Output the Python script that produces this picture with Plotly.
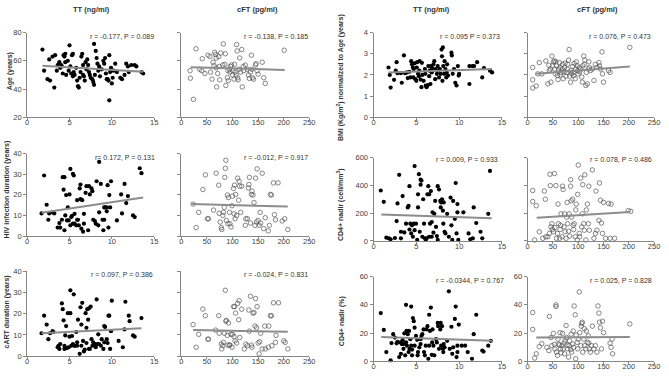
import plotly.graph_objects as go

W, H = 669, 378

# ---------------- data ----------------
# Panel A: Age vs TT / cFT
age_tt_x = [1.8,2.0,2.4,2.7,2.6,3.0,3.2,3.3,3.5,3.6,3.8,3.9,4.0,4.1,4.2,4.3,4.4,4.5,4.5,4.6,4.8,4.9,5.0,5.1,5.2,5.3,5.4,5.4,5.5,5.6,5.8,5.9,6.0,6.1,6.2,6.3,6.4,6.5,6.6,6.6,6.7,6.8,6.9,7.0,7.1,7.2,7.3,7.4,7.5,7.7,7.8,7.9,7.9,8.0,8.1,8.2,8.3,8.4,8.5,8.6,8.8,9.0,9.1,9.2,9.3,9.4,9.5,9.6,9.7,9.7,9.8,9.9,10.0,10.1,10.2,10.4,10.6,11.0,11.2,11.5,11.7,11.9,12.0,12.3,12.7,12.9,13.5,13.7]
age_tt_y = [68,53,47,46,61,63,41,64,53,57,59,55,57,56,51,64,63,65,59,50,60,53,71,56,51,64,65,49,52,50,55,46,42,41,48,52,63,65,57,50,49,46,59,54,61,57,52,50,48,47,45,43,72,50,67,62,58,53,56,49,54,60,58,62,51,47,47,46,64,32,52,55,44,48,53,58,52,48,47,50,58,56,52,57,57,56,52,51]
age_cft_x = [17.7,17,23.6,28.7,36,40,41,46,52,56,57,60,62,64,65,67,68,68,69,71,73,74,75,77,81,82,85,86,87,90,91,92,94,95,96,98,100,101,103,104,105,107,108,109,110,111,113,114,116,118,119,121,122,125,129,131,133,135,137,138,139,141,145,146,148,150,158,161,164,201]
age_cft_y = [47.7,53,32.7,68.5,54,53,61.5,51,64,63,52,47,59,56.5,66,64.5,62,55,41.5,51,63,56,46.5,65.5,57,72,57.5,65,42.5,48,53,46,54,52,56,57,50,53,47,57.5,52,50,71.5,67,48,46.5,54,62,52,68,41.5,56,53,57,54,50,47.5,52,64,54,48,47,57,58,53,50.5,59,48,44,67.5]

# Panel B: BMI normalized to age vs TT / cFT
bmi_tt_x = [1.75,1.9,2.0,2.4,2.6,2.7,2.8,3.2,3.3,3.55,3.7,3.9,4.0,4.2,4.3,4.4,4.5,4.6,4.65,4.7,4.8,4.9,5.0,5.05,5.1,5.2,5.3,5.35,5.4,5.5,5.6,5.65,5.7,5.85,6.0,6.05,6.1,6.2,6.35,6.4,6.5,6.55,6.65,6.7,6.8,6.85,7.0,7.1,7.2,7.25,7.4,7.5,7.55,7.65,7.75,7.85,7.95,8.0,8.05,8.1,8.15,8.25,8.3,8.4,8.5,8.55,8.6,8.7,9.1,9.15,9.25,9.4,9.55,9.7,9.85,9.95,10.0,11.2,11.2,11.55,11.75,12.1,12.7,12.9,13.6,13.85]
bmi_tt_y = [2.35,2.0,1.4,1.77,2.2,2.6,2.08,2.08,1.63,2.92,2.08,2.12,1.85,2.15,1.88,2.65,2.5,2.35,1.88,2.28,2.55,1.8,1.72,2.35,2.6,2.05,1.94,2.2,2.65,1.78,1.42,2.57,2.0,1.72,2.28,2.05,1.5,1.42,1.52,2.42,1.94,2.2,1.57,2.42,2.12,2.32,2.5,2.65,1.8,2.28,2.05,2.42,2.2,1.88,2.28,2.05,3.2,2.88,1.72,3.3,2.42,2.05,2.65,2.28,1.88,2.12,2.5,1.97,3.05,2.92,2.05,2.28,1.63,1.5,2.42,1.97,2.05,1.57,2.42,2.42,2.42,2.6,1.88,2.32,2.2,2.12]
bmi_cft_x = [10,10,17,10,20,23,28,36,40,42,43,45,46,48,49,51,53,54,55,56,57,59,60,61,63,64,65,66,68,69,70,72,73,74,76,77,78,79,81,82,83,85,86,87,89,90,91,92,94,95,96,98,99,100,102,103,105,107,108,109,111,112,113,115,116,118,120,121,122,124,128,131,134,137,141,142,144,147,148,150,160,163,202]
bmi_cft_y = [1.77,1.38,1.48,2.35,2.05,2.58,2.05,2.66,1.58,2.46,2.2,2.28,1.66,2.89,2.43,2.62,2.66,2.28,2.05,2.62,2.43,1.97,1.78,2.28,2.58,2.35,2.0,2.12,2.28,2.5,1.82,2.15,2.35,2.55,1.94,2.12,2.28,2.5,2.7,3.2,1.94,1.66,2.2,2.05,2.4,2.12,1.97,2.54,1.82,2.28,2.62,2.43,2.2,2.05,2.35,2.15,2.28,1.9,1.66,2.43,2.89,2.5,2.7,1.5,2.12,1.58,2.28,2.62,2.35,2.2,2.28,1.74,2.5,2.35,2.58,2.43,2.28,3.09,2.05,1.66,2.2,2.12,3.3]

# Panel C: HIV infection duration vs TT / cFT
hiv_tt_x = [1.7,2.0,2.3,2.5,2.6,3.0,3.2,3.6,3.8,3.9,4.1,4.2,4.3,4.4,4.4,4.5,4.6,4.7,4.8,4.9,5.0,5.1,5.1,5.2,5.3,5.4,5.4,5.5,5.6,5.6,5.8,5.9,5.9,6.0,6.1,6.2,6.3,6.3,6.4,6.5,6.6,6.7,6.7,6.9,7.0,7.2,7.3,7.4,7.6,7.7,7.8,8.0,8.1,8.2,8.4,8.5,8.5,8.7,8.9,9.0,9.1,9.1,9.2,9.4,9.4,9.5,9.6,9.7,9.8,9.9,10.6,11.1,11.2,11.5,11.7,11.9,12.5,12.7,13.3,13.5]
hiv_tt_y = [11,29.4,15.2,7.9,11,11.5,11,4.1,6.3,4.1,7.9,28.6,22.5,28.6,2.8,10,19.9,7.6,13.9,7.6,20.2,32.6,5.2,9.2,9.8,6,30.2,29.4,6,10.8,5.2,17.4,7.9,7.9,5.2,23.1,25,17.9,3.6,17.4,2.1,10.8,6,21,24.2,2.8,24.2,20.2,23.1,21.8,7.9,7.3,6,26.6,5.2,11.5,36,25.3,7.9,2.8,13.9,7.9,13.9,12,13.9,24.7,4.1,19.9,13.9,26.6,7.6,20.2,11,25.3,16,19.4,10,9.2,32.9,30.5]
hiv_cft_x = [23,29,34,42,47,51,53,63,68,73,74,76,78,79,81,82,84,85,86,87,88,90,91,92,94,95,97,99,100,102,103,104,105,106,108,110,112,113,114,116,118,125,126,129,131,132,133,135,137,138,140,142,144,145,147,148,150,152,154,155,158,161,164,170,172,174,176,180,182,184,189,197,202,208]
hiv_cft_y = [15.5,4.1,11.5,22.6,29.7,8.4,8.4,12.6,30.5,24.7,11,6.8,4.1,3.2,10,11.5,13.9,28.5,32.9,36.8,7.6,19.9,6,18.7,11.5,6,4.4,14.7,19.4,23.1,10.8,24.7,8.4,20.2,10,28.1,17.4,26.6,24.2,11.5,24.2,5.2,8.4,8.4,23.4,25,28.5,6.3,20.2,21.8,19.9,16.3,5.2,28.1,6.8,32.6,7.6,5.2,11.5,6.3,30.5,3.6,8.9,2.5,5.2,20.2,19.9,25.8,10.4,7.9,25.8,7.3,8.4,3.2]

# Panel D: CD4+ nadir (cell/mm3) vs TT / cFT
cd4_tt_x = [0.85,1.2,1.5,1.8,2.0,2.5,2.7,2.8,3.0,3.2,3.2,3.4,3.6,3.8,4.0,4.1,4.2,4.2,4.3,4.4,4.5,4.6,4.7,4.8,4.8,4.96,5.1,5.2,5.2,5.3,5.4,5.5,5.5,5.6,5.7,5.8,5.9,6.0,6.1,6.2,6.3,6.4,6.5,6.5,6.6,6.7,6.8,6.8,6.9,7.0,7.1,7.2,7.3,7.4,7.5,7.5,7.65,7.8,7.85,7.9,8.0,8.1,8.15,8.2,8.3,8.4,8.6,8.8,9.0,9.1,9.2,9.3,9.5,9.6,9.7,9.8,9.8,9.9,10.5,11.1,11.3,11.6,11.7,12.0,12.5,12.7,13.4,13.6]
cd4_tt_y = [363,281,23,19,12,21,143,270,476,66,19,323,61,124,241,253,82,394,124,54,112,30,124,77,539,124,7,241,335,480,66,405,441,434,30,300,124,19,7,19,335,394,30,335,124,359,136,30,206,59,195,288,101,35,7,394,370,288,241,277,300,218,124,277,66,54,195,30,312,112,7,288,159,417,54,265,206,7,206,54,12,19,241,129,66,19,195,504]
cd4_cft_x = [10,10,14,17,23,30,33,35,36,40,43,44,45,46,48,49,51,53,54,56,57,59,60,61,63,64,65,66,68,69,70,72,73,74,76,77,78,79,81,82,83,85,85,86,87,89,90,91,92,94,95,96,98,99,100,102,103,105,107,108,109,111,112,113,115,116,118,120,121,122,128,131,134,135,137,141,142,144,146,148,150,154,160,163,165,172,199,204]
cd4_cft_y = [363,284,7,253,66,19,359,300,30,30,54,480,398,101,124,82,66,485,96,398,19,54,265,124,19,82,112,195,30,394,370,101,195,66,19,171,277,124,70,195,35,394,441,288,171,300,112,82,124,30,223,265,7,335,546,54,30,452,101,195,405,124,77,476,7,223,265,124,394,77,511,19,54,359,77,148,417,293,129,54,277,19,270,19,265,19,218,213]

# Panel E: cART duration vs TT / cFT
cart_tt_x = [1.7,2.0,2.3,2.5,2.7,3.0,3.1,3.6,3.7,3.8,3.9,4.1,4.2,4.3,4.4,4.4,4.5,4.6,4.7,4.8,4.9,5.0,5.1,5.1,5.2,5.3,5.4,5.5,5.6,5.6,5.8,5.9,5.9,6.0,6.2,6.3,6.4,6.4,6.5,6.6,6.7,6.8,6.9,7.0,7.0,7.1,7.2,7.3,7.3,7.4,7.5,7.6,7.7,7.8,8.0,8.1,8.2,8.3,8.4,8.5,8.7,8.8,9.0,9.1,9.1,9.2,9.4,9.5,9.6,9.7,9.8,9.9,10.0,10.8,11.3,11.5,11.6,12.0,12.1,12.5,12.7,13.5]
cart_tt_y = [10.8,19.1,14.9,8,10.8,11.8,11.4,4.2,4.9,3.4,5.7,24.9,22.2,16.9,4.9,3.4,9.8,14.2,3.8,20.3,4.2,9.2,31.1,20.3,4.9,9.5,5.7,29.2,4.9,4.9,11.4,6.5,4.9,17.2,1.1,23.1,14.9,4.9,25.2,7.2,2.2,3.1,20.3,13.4,6.2,22.2,17.2,3.4,22.6,3.4,23.4,8,4.9,6.5,5.7,4.2,26.8,5.7,10.3,5.7,4.9,8,3.4,14.2,6.5,13.8,8,6.2,19.1,19.1,3.4,11.8,26.2,7.2,4.2,12.6,25.7,19.1,16.5,9.8,9.2,18]
cart_cft_x = [23,29,34,42,47,52,53,67,73,74,78,79,81,82,84,86,87,88,90,91,92,94,95,97,99,100,102,103,104,105,106,108,110,112,113,114,118,123,126,129,132,133,135,137,138,140,142,144,145,147,148,150,152,153,155,158,163,164,170,171,174,176,177,180,184,185,190,200,203,208]
cart_cft_y = [14.9,4.2,10.3,22.2,19.1,8,8,12.3,19.1,10.8,5.7,3.4,4.9,6.5,10.8,31.1,16.5,16.9,9.8,5.2,15.7,5.2,5.2,10.3,4.2,10.3,23.4,9.2,23.4,7.2,20.3,6.2,24.9,17.2,26.2,8.8,22.2,3.4,5.7,4.9,21.8,11.8,28.3,5.2,4.2,20.3,20.6,14.2,27.2,13.4,23.4,6.2,1.1,6.8,10.8,3.4,14.2,3.4,4.2,14.2,19.1,19.1,4.9,25.2,6.5,9.8,25.2,7.2,6.5,3.4]

# Panel F: CD4+ nadir (%) vs TT / cFT
cd4p_tt_x = [0.85,1.2,1.5,2.0,2.1,2.3,2.5,2.7,2.8,3.8,3.0,4.4,3.15,3.2,3.3,3.4,3.5,3.5,3.6,3.7,3.8,3.85,3.9,4.0,4.1,4.15,4.2,4.3,4.4,4.5,4.5,4.6,4.7,4.8,4.8,4.96,5.1,5.15,5.2,5.35,5.5,5.5,5.6,5.7,5.85,5.9,6.0,6.1,6.2,6.3,6.4,6.5,6.5,6.6,6.7,6.8,6.85,6.9,7.0,7.1,7.3,7.4,7.5,7.55,7.65,7.8,7.85,7.9,8.0,8.1,8.15,8.2,8.3,8.6,8.8,8.9,9.1,9.2,9.3,9.5,9.6,9.7,9.8,9.8,9.96,10.3,10.7,11.0,11.5,11.7,12.0,12.7,12.85,13.4,13.7]
cd4p_tt_y = [34.2,22.2,6.5,0.7,12.9,19.2,16.8,12.7,13.8,40,3,38.8,13.4,5.3,12.2,15,8.8,12.2,19.8,4.2,13.4,21.5,11.1,19.2,6.5,21.5,8.8,15.7,11.1,8.3,4.2,30.7,28.4,23.8,11.1,18,15.2,4.2,6.5,9.9,12.2,15.7,18,19.2,22.6,6.5,4.2,11.1,22.6,24.9,1.8,11.1,33,21.5,38.1,4.6,13.4,22.6,11.1,4.2,15.7,13.4,27.2,24.9,8.8,22.6,27.2,11.1,24.9,8.8,6.5,12.2,9.9,14.5,49.6,8.8,24.5,5.3,9.9,30,38.8,3,6.5,11.1,26,11.1,11.1,6.5,1.8,19.2,33,7.6,6.9,11.1,14.5]
cd4p_cft_x = [10,10,14,17,23,28,38,42,43,46,48,51,53,54,56,56,57,59,60,61,63,64,65,66,68,69,70,72,73,74,76,77,78,79,81,82,83,85,86,87,89,90,91,92,94,95,96,98,99,100,102,103,105,106,107,108,109,111,112,113,115,116,118,120,121,122,124,126,128,131,134,137,139,141,142,144,146,148,150,163,165,167,168,202]
cd4p_cft_y = [34.6,22.6,2.3,5.3,10.4,12.5,9.9,7.6,31.8,16.8,11.1,19.8,12,8.8,40,38.8,6.5,4.2,15.7,12.2,11.5,20.3,8.8,6,11.1,19.8,8.8,12.9,5.3,14.5,25.4,16.8,11.5,8.8,3,11.1,14.5,8.3,19.2,6.5,12.2,21.5,9.9,39.2,33,1.8,18.5,13.4,8.8,15.7,49.2,20.3,11.1,24.9,26.8,27.7,6.5,15.7,23.1,11.1,8.8,21.5,13.4,18,12.9,8.8,6.5,11.1,24.9,8.8,11.1,6.5,39.2,34.2,27.7,23.8,8.8,28.4,20.3,12.9,9.9,15.7,5.3,26.5]

# Fitted trend lines (start / end)
trend_x = [[1.8,13.7],[18,202],[1.75,13.85],[17,202],[1.7,13.7],[20,208],
           [0.9,13.8],[18,202],[1.7,13.5],[23,208],[0.9,13.9],[17,202]]
trend_y = [[56.5,52.3],[55.5,53.5],[2.12,2.28],[2.05,2.4],[11.3,18.7],[15.5,14.3],
           [190,164],[166,208],[10.8,13.2],[12.3,11.5],[17.3,14.5],[16.8,17.3]]

stats = ["r = -0.177, P = 0.089", "r = -0.138, P = 0.185",
         "r = 0.095 P = 0.373", "r = 0.076, P = 0.473",
         "r= 0.172, P = 0.131", "r = -0.012, P = 0.917",
         "r = 0.009, P = 0.933", "r = 0.078, P = 0.486",
         "r = 0.097, P = 0.386", "r = -0.024, P = 0.831",
         "r = -0.0344, P = 0.767", "r = 0.025, P = 0.828"]

col_headers = ["TT (ng/ml)", "cFT (pg/ml)", "TT (ng/ml)", "cFT (pg/ml)"]
y_titles = ["Age (years)", "BMI (Kg/m<sup>2</sup>) normalized to Age (years)",
            "HIV infection duration (years)", "CD4+ nadir (cell/mm<sup>3</sup>)",
            "cART duration (years)", "CD4+ nadir (%)"]

series_x = [age_tt_x, age_cft_x, bmi_tt_x, bmi_cft_x, hiv_tt_x, hiv_cft_x,
            cd4_tt_x, cd4_cft_x, cart_tt_x, cart_cft_x, cd4p_tt_x, cd4p_cft_x]
series_y = [age_tt_y, age_cft_y, bmi_tt_y, bmi_cft_y, hiv_tt_y, hiv_cft_y,
            cd4_tt_y, cd4_cft_y, cart_tt_y, cart_cft_y, cd4p_tt_y, cd4p_cft_y]

# ---------------- layout geometry (pixels) ----------------
cols_px = [(25.5, 154), (181.5, 311), (376, 506), (532, 660)]
rows_left = [(29.3, 116), (153.3, 237.7), (274, 360.7)]
rows_right = [(29.3, 116), (157.3, 242.7), (279.3, 366)]
yranges = [(20, 80, 20), (0, 4, 1), (0, 40, 10), (0, 600, 200), (0, 40, 10), (0, 60, 20)]
xranges = [(0, 15, 5), (0, 250, 50)]

FONT = "Liberation Sans, Arial, sans-serif"
AX = "#868686"

def px_x(p):
    return p / W

def px_y(p):
    return 1 - p / H

fig = go.Figure()
layout = dict(width=W, height=H, margin=dict(l=0, r=0, t=0, b=0, pad=0),
              paper_bgcolor="white", plot_bgcolor="white", showlegend=False,
              font=dict(family=FONT, size=7.5, color="#404040"))
annotations = []

stat_xend = [156, 312, 506, 659, 157, 312, 504, 660, 155, 312, 510, 660]
stat_y = [33, 33, 33, 33, 157.3, 157.3, 159.3, 159.3, 277.3, 277.3, 283.3, 283.3]

for i in range(12):
    n = i + 1
    row = i // 4
    col = i % 4
    group = col // 2          # 0 = left block, 1 = right block
    is_cft = col % 2 == 1
    var = row * 2 + group
    rows = rows_left if group == 0 else rows_right
    top, bot = rows[row]
    l, r = cols_px[col]
    xr = xranges[1 if is_cft else 0]
    y0, y1, dy = yranges[var]
    xa = "x" if n == 1 else f"x{n}"
    ya = "y" if n == 1 else f"y{n}"
    show_ylab = (not is_cft) or (var == 5)

    layout["xaxis" if n == 1 else f"xaxis{n}"] = dict(
        domain=[px_x(l), px_x(r)], anchor=ya, range=[xr[0], xr[1]],
        tickvals=list(range(xr[0], xr[1] + 1, xr[2])),
        showline=True, linecolor=AX, linewidth=1, ticks="outside",
        ticklen=2, tickcolor=AX, showgrid=False, zeroline=False,
        ticklabelstandoff=-4,
        tickfont=dict(size=7.5, color="#404040"))
    layout["yaxis" if n == 1 else f"yaxis{n}"] = dict(
        domain=[px_y(bot), px_y(top)], anchor=xa, range=[y0, y1],
        tickvals=list(range(y0, y1 + 1, dy)), showticklabels=show_ylab,
        showline=True, linecolor=AX, linewidth=1, ticks="outside",
        ticklen=3, tickcolor=AX, showgrid=False, zeroline=False,
        tickfont=dict(size=7.5, color="#404040"))

    if is_cft:
        marker = dict(symbol="circle-open", size=4.5, color="#555555",
                      line=dict(width=0.7, color="#555555"))
    else:
        marker = dict(symbol="circle", size=4.2, color="#000000")
    fig.add_trace(go.Scatter(x=series_x[i], y=series_y[i], mode="markers",
                             marker=marker, xaxis=xa, yaxis=ya,
                             cliponaxis=False, hoverinfo="skip"))
    fig.add_trace(go.Scatter(x=trend_x[i], y=trend_y[i], mode="lines",
                             line=dict(color="#8c8c8c", width=2),
                             xaxis=xa, yaxis=ya, hoverinfo="skip"))

    annotations.append(dict(text=stats[i], xref="paper", yref="paper",
                            x=px_x(stat_xend[i]), y=px_y(stat_y[i]),
                            xanchor="right", yanchor="middle", showarrow=False,
                            font=dict(size=7, color="#333333")))

# column headers
for txt, cx in zip(col_headers, [90.5, 259, 435, 603]):
    annotations.append(dict(text=f"<b>{txt}</b>", xref="paper", yref="paper",
                            x=px_x(cx), y=px_y(6), xanchor="center",
                            yanchor="middle", showarrow=False,
                            font=dict(size=7.5, color="#333333")))

# y-axis titles
ytitle_pos = [(8, 69), (342, 75), (6, 190), (342, 205), (5, 315), (344, 325)]
for txt, (tx, ty) in zip(y_titles, ytitle_pos):
    annotations.append(dict(text=f"<b>{txt}</b>", xref="paper", yref="paper",
                            x=px_x(tx), y=px_y(ty), xanchor="center",
                            yanchor="middle", textangle=-90, showarrow=False,
                            font=dict(size=7, color="#333333")))

layout["annotations"] = annotations
fig.update_layout(**layout)
fig.write_html("out.html", config={"displayModeBar": False},
               post_script="document.body.style.margin='0';document.body.style.overflow='hidden';")
